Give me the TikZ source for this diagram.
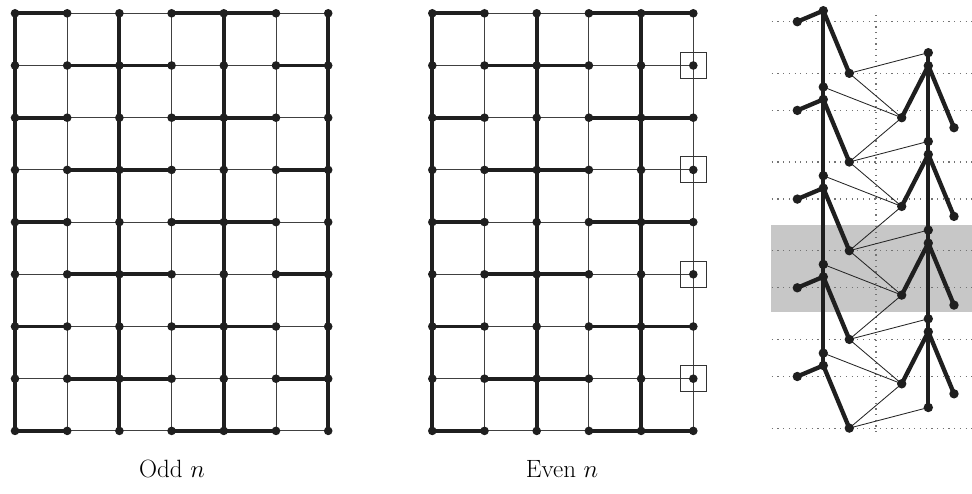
\documentclass[tikz,border=0pt]{standalone}
\pgfdeclarelayer{back}
\pgfdeclarelayer{mid}
\pgfsetlayers{back,mid,main}
\begin{document}
\begin{tikzpicture}[x=1pt,y=-1pt,
  dot/.style={circle,fill=black!88,inner sep=0pt,minimum size=8.6pt},
  bigdot/.style={circle,fill=black!88,inner sep=0pt,minimum size=9.4pt},
  thinedge/.style={line width=0.9pt,black!75},
  thickedge/.style={line width=3.9pt,black!88},
  rthick/.style={line width=4.3pt,black!88,line cap=round},
  rthin/.style={line width=0.85pt,black!85},
  guide/.style={line width=1.2pt,black!55,dash pattern=on 1.2pt off 4.5pt},
  markbox/.style={draw=black!80,line width=0.8pt,minimum size=26pt,inner sep=0pt},
  caption/.style={anchor=base,font=\fontsize{25}{30}\selectfont}
]
\useasboundingbox (0,0) rectangle (972,494);

% ---------- grid nodes ----------
\foreach \i in {0,...,6}
  \foreach \j in {0,...,8}
    \node[dot] (L-\i-\j) at ({15+52.2*\i},{13.3+52.2*\j}) {};
\foreach \i in {0,...,5}
  \foreach \j in {0,...,8}
    \node[dot] (M-\i-\j) at ({432.3+52.2*\i},{13.3+52.2*\j}) {};

\begin{pgfonlayer}{mid}
% left grid thin
\foreach \j in {0,...,8}
  \foreach \i/\k in {0/1,1/2,2/3,3/4,4/5,5/6}
    \draw[thinedge] (L-\i-\j.center) -- (L-\k-\j.center);
\foreach \i in {0,...,6}
  \foreach \j/\l in {0/1,1/2,2/3,3/4,4/5,5/6,6/7,7/8}
    \draw[thinedge] (L-\i-\j.center) -- (L-\i-\l.center);
% left grid thick
\foreach \j in {0,2,4,6,8}
  \foreach \i/\k in {0/1,3/4,4/5}
    \draw[thickedge] (L-\i-\j.center) -- (L-\k-\j.center);
\foreach \j in {1,3,5,7}
  \foreach \i/\k in {1/2,2/3,5/6}
    \draw[thickedge] (L-\i-\j.center) -- (L-\k-\j.center);
\foreach \i in {0,2,4,6}
  \foreach \j/\l in {0/1,1/2,2/3,3/4,4/5,5/6,6/7,7/8}
    \draw[thickedge] (L-\i-\j.center) -- (L-\i-\l.center);

% middle grid thin
\foreach \j in {0,...,8}
  \foreach \i/\k in {0/1,1/2,2/3,3/4,4/5}
    \draw[thinedge] (M-\i-\j.center) -- (M-\k-\j.center);
\foreach \i in {0,...,5}
  \foreach \j/\l in {0/1,1/2,2/3,3/4,4/5,5/6,6/7,7/8}
    \draw[thinedge] (M-\i-\j.center) -- (M-\i-\l.center);
% middle grid thick
\foreach \j in {0,2,4,6,8}
  \foreach \i/\k in {0/1,3/4,4/5}
    \draw[thickedge] (M-\i-\j.center) -- (M-\k-\j.center);
\foreach \j in {1,3,5,7}
  \foreach \i/\k in {1/2,2/3}
    \draw[thickedge] (M-\i-\j.center) -- (M-\k-\j.center);
\foreach \i in {0,2,4}
  \foreach \j/\l in {0/1,1/2,2/3,3/4,4/5,5/6,6/7,7/8}
    \draw[thickedge] (M-\i-\j.center) -- (M-\i-\l.center);
\end{pgfonlayer}

% boxes on even grid
\foreach \j in {1,3,5,7}
  \node[markbox] (box-\j) at (M-5-\j) {};

% ---------- right structure ----------
\begin{pgfonlayer}{back}
\fill[black!22] (771,225) rectangle (972,311.7);
\foreach \k in {0,...,4} {
  \draw[guide] (771.7,{21.7+88.7*\k}) -- (972,{21.7+88.7*\k});
  \draw[guide] (771.7,{73.3+88.7*\k}) -- (972,{73.3+88.7*\k});
}
\draw[guide] (876,15) -- (876,432);
\end{pgfonlayer}

\foreach \k in {0,...,4} {
  \node[bigdot] (A-\k) at (823.3,{10.7+88.7*\k}) {};
  \node[bigdot] (F-\k) at (797.3,{21.7+88.7*\k}) {};
  \node[bigdot] (D-\k) at (849.3,{73.3+88.7*\k}) {};
  \node[bigdot] (R-\k) at (928.3,{52.7+88.7*\k}) {};
}
\foreach \k in {1,...,4}
  \node[bigdot] (U-\k) at (823.3,{-1.7+88.7*\k}) {};
\foreach \k in {0,...,3} {
  \node[bigdot] (S-\k) at (928.3,{65.7+88.7*\k}) {};
  \node[bigdot] (C-\k) at (901.7,{117.7+88.7*\k}) {};
  \node[bigdot] (G-\k) at (954,{127.7+88.7*\k}) {};
}

\begin{pgfonlayer}{mid}
% thin links
\foreach \k in {0,...,4}
  \draw[rthin] (D-\k.center) -- (R-\k.center);
\foreach \k [evaluate=\k as \n using int(\k+1)] in {0,...,3} {
  \draw[rthin] (D-\k.center) -- (C-\k.center);
  \draw[rthin] (U-\n.center) -- (C-\k.center);
  \draw[rthin] (C-\k.center) -- (D-\n.center);
}
% thick tree edges
\draw[rthick] (A-0.center) -- (A-4.center);
\draw[rthick] (R-0.center) -- (R-4.center);
\foreach \k in {0,...,4} {
  \draw[rthick] (A-\k.center) -- (F-\k.center);
  \draw[rthick] (A-\k.center) -- (D-\k.center);
}
\foreach \k in {0,...,3} {
  \draw[rthick] (S-\k.center) -- (C-\k.center);
  \draw[rthick] (S-\k.center) -- (G-\k.center);
}
\end{pgfonlayer}

% ---------- captions ----------
\node[caption] (odd) at (172,477) {Odd $n$};
\node[caption] (even) at (562,477) {Even $n$};
\end{tikzpicture}
\end{document}
